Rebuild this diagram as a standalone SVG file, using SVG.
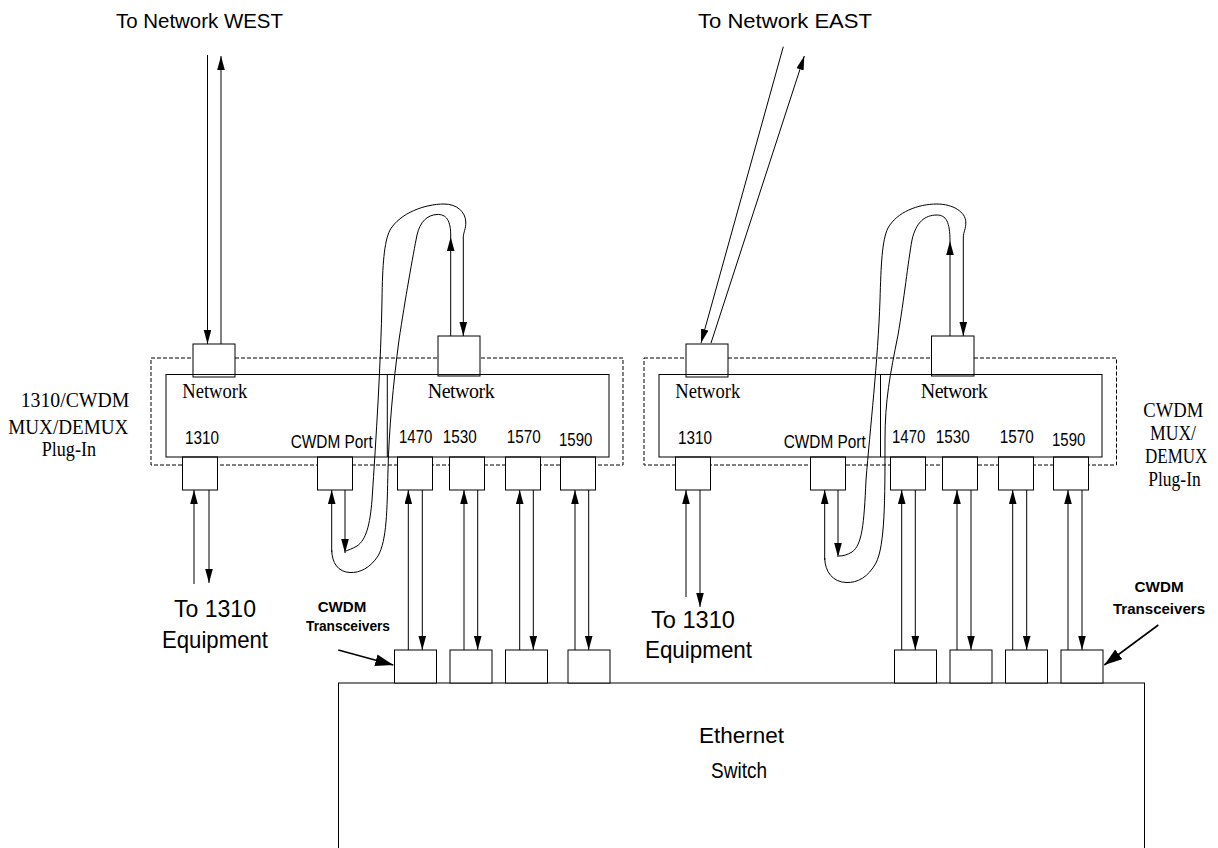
<svg xmlns="http://www.w3.org/2000/svg" width="1218" height="848" viewBox="0 0 1218 848">
<style>
.box{fill:#fff;stroke:#000;stroke-width:1}
.frame{fill:none;stroke:#000;stroke-width:1}
.dash{fill:none;stroke:#000;stroke-width:1;stroke-dasharray:4 2}
.ln{fill:none;stroke:#000;stroke-width:1}
.arr{marker-end:url(#ah)}
.big{fill:none;stroke:#000;stroke-width:1.6;marker-end:url(#ah2)}
.sans{font-family:"Liberation Sans",Arial,sans-serif;fill:#000}
.serif{font-family:"Liberation Serif","Times New Roman",serif;fill:#000}
.lbl{font-size:20px}
.num{font-size:17.5px}
.bold{font-weight:bold;font-size:15.5px}
.title{font-size:21px}
.eq{font-size:24px}
</style>
<defs>
<marker id="ah" markerUnits="userSpaceOnUse" markerWidth="14" markerHeight="8" refX="14" refY="3.8" orient="auto">
<path d="M0,0 L14,3.8 L0,7.6 z" fill="#000"/>
</marker>
<marker id="ah2" markerUnits="userSpaceOnUse" markerWidth="18" markerHeight="13" refX="18" refY="6" orient="auto">
<path d="M0,0 L18,6 L0,12 z" fill="#000"/>
</marker>
</defs>
<rect width="1218" height="848" fill="#fff"/>

<g id="title-west"><text class="sans title" x="116" y="28" textLength="167" lengthAdjust="spacingAndGlyphs">To Network WEST</text></g>
<g id="title-east"><text class="sans title" x="698" y="27.5" textLength="174" lengthAdjust="spacingAndGlyphs">To Network EAST</text></g>

<g id="label-left">
<text class="serif lbl" x="20.7" y="406.5" textLength="108.6" lengthAdjust="spacingAndGlyphs">1310/CWDM</text>
<text class="serif lbl" x="8.3" y="434" textLength="120" lengthAdjust="spacingAndGlyphs">MUX/DEMUX</text>
<text class="serif lbl" x="41.7" y="456" textLength="54.3" lengthAdjust="spacingAndGlyphs">Plug-In</text>
</g>
<g id="label-right">
<text class="serif lbl" x="1143.3" y="416.7" textLength="60" lengthAdjust="spacingAndGlyphs">CWDM</text>
<text class="serif lbl" x="1150" y="440" textLength="46" lengthAdjust="spacingAndGlyphs">MUX/</text>
<text class="serif lbl" x="1145" y="463.3" textLength="62.3" lengthAdjust="spacingAndGlyphs">DEMUX</text>
<text class="serif lbl" x="1148.3" y="486" textLength="52.4" lengthAdjust="spacingAndGlyphs">Plug-In</text>
</g>

<g id="mux-left">
<rect class="dash" x="151" y="358" width="472" height="107"/>
<g id="mux-left-net1"><rect class="box" x="193" y="344" width="42" height="33"/></g>
<g id="mux-left-net2"><rect class="box" x="438" y="336" width="42" height="40"/></g>
<g id="mux-left-p1310"><rect class="box" x="182.5" y="457" width="35" height="33"/></g>
<g id="mux-left-pcwdm"><rect class="box" x="317.5" y="457" width="35" height="33"/></g>
<g id="mux-left-p1470"><rect class="box" x="397.5" y="457" width="35" height="33"/></g>
<g id="mux-left-p1530"><rect class="box" x="449.5" y="457" width="35" height="33"/></g>
<g id="mux-left-p1570"><rect class="box" x="505.5" y="457" width="35" height="33"/></g>
<g id="mux-left-p1590"><rect class="box" x="560.5" y="457" width="35" height="33"/></g>
<rect class="frame" x="166" y="374.5" width="443" height="82.5"/>
<line class="ln" x1="387.3" y1="374.5" x2="387.3" y2="457" stroke-width="1.6"/>
<text class="serif lbl" x="182.3" y="398" textLength="65" lengthAdjust="spacingAndGlyphs">Network</text>
<text class="serif lbl" x="427.7" y="397.7" textLength="67">Network</text>
<text class="sans num" x="185" y="444" textLength="34" lengthAdjust="spacingAndGlyphs">1310</text>
<text class="sans" font-size="18" x="290.7" y="448" textLength="82" lengthAdjust="spacingAndGlyphs">CWDM Port</text>
<text class="sans num" x="399" y="443.3" textLength="33.3" lengthAdjust="spacingAndGlyphs">1470</text>
<text class="sans num" x="442.7" y="443.3" textLength="34" lengthAdjust="spacingAndGlyphs">1530</text>
<text class="sans num" x="506.7" y="443.3" textLength="34" lengthAdjust="spacingAndGlyphs">1570</text>
<text class="sans num" x="559" y="446" textLength="33.3" lengthAdjust="spacingAndGlyphs">1590</text>
</g>

<g id="mux-right">
<rect class="dash" x="644" y="358" width="472.5" height="107"/>
<g id="mux-right-net1"><rect class="box" x="686" y="344" width="42" height="33"/></g>
<g id="mux-right-net2"><rect class="box" x="931.5" y="336" width="42.5" height="40"/></g>
<g id="mux-right-p1310"><rect class="box" x="675.5" y="457" width="35" height="33"/></g>
<g id="mux-right-pcwdm"><rect class="box" x="810.5" y="457" width="35" height="33"/></g>
<g id="mux-right-p1470"><rect class="box" x="890.5" y="457" width="35" height="33"/></g>
<g id="mux-right-p1530"><rect class="box" x="942.5" y="457" width="35" height="33"/></g>
<g id="mux-right-p1570"><rect class="box" x="998.5" y="457" width="35" height="33"/></g>
<g id="mux-right-p1590"><rect class="box" x="1053.5" y="457" width="35" height="33"/></g>
<rect class="frame" x="659" y="374.5" width="443" height="82.5"/>
<line class="ln" x1="880.5" y1="374.5" x2="880.5" y2="457" stroke-width="1.6"/>
<text class="serif lbl" x="675.3" y="398" textLength="65" lengthAdjust="spacingAndGlyphs">Network</text>
<text class="serif lbl" x="920.7" y="397.7" textLength="67">Network</text>
<text class="sans num" x="678" y="444" textLength="34" lengthAdjust="spacingAndGlyphs">1310</text>
<text class="sans" font-size="18" x="783.7" y="448" textLength="82" lengthAdjust="spacingAndGlyphs">CWDM Port</text>
<text class="sans num" x="892" y="443.3" textLength="33.3" lengthAdjust="spacingAndGlyphs">1470</text>
<text class="sans num" x="935.7" y="443.3" textLength="34" lengthAdjust="spacingAndGlyphs">1530</text>
<text class="sans num" x="999.7" y="443.3" textLength="34" lengthAdjust="spacingAndGlyphs">1570</text>
<text class="sans num" x="1052" y="446" textLength="33.3" lengthAdjust="spacingAndGlyphs">1590</text>
</g>

<g id="switch">
<rect class="box" x="338.5" y="683" width="806" height="200"/>
<text class="sans" font-size="22" x="699" y="743" textLength="85" lengthAdjust="spacingAndGlyphs">Ethernet</text>
<text class="sans" font-size="22" x="711" y="778" textLength="56" lengthAdjust="spacingAndGlyphs">Switch</text>
</g>

<g id="transceivers-left">
<rect class="box" x="394.5" y="650" width="42" height="33"/>
<rect class="box" x="450" y="650" width="42" height="33"/>
<rect class="box" x="505.5" y="650" width="42" height="33"/>
<rect class="box" x="568" y="650" width="42" height="33"/>
</g>
<g id="transceivers-right">
<rect class="box" x="894.5" y="650" width="42" height="33"/>
<rect class="box" x="950" y="650" width="42" height="33"/>
<rect class="box" x="1005.5" y="650" width="42" height="33"/>
<rect class="box" x="1061" y="650" width="42" height="33"/>
</g>

<g id="equip-left">
<text class="sans eq" x="174" y="617" textLength="82" lengthAdjust="spacingAndGlyphs">To 1310</text>
<text class="sans eq" x="162" y="648" textLength="106" lengthAdjust="spacingAndGlyphs">Equipment</text>
</g>
<g id="equip-right">
<text class="sans eq" x="651" y="628" textLength="84" lengthAdjust="spacingAndGlyphs">To 1310</text>
<text class="sans eq" x="645" y="658" textLength="107" lengthAdjust="spacingAndGlyphs">Equipment</text>
</g>

<g id="trx-label-left">
<text class="sans bold" x="317.7" y="612" textLength="48.7" lengthAdjust="spacingAndGlyphs">CWDM</text>
<text class="sans bold" x="306" y="631" textLength="84" lengthAdjust="spacingAndGlyphs">Transceivers</text>
</g>
<g id="trx-label-right">
<text class="sans bold" x="1134.6" y="592" textLength="49" lengthAdjust="spacingAndGlyphs">CWDM</text>
<text class="sans bold" x="1113" y="614" textLength="92" lengthAdjust="spacingAndGlyphs">Transceivers</text>
</g>

<g id="connectors">
<line class="ln arr" x1="207.5" y1="55" x2="207.5" y2="344"/>
<line class="ln arr" x1="221" y1="344" x2="221" y2="56"/>
<line class="ln arr" x1="783.3" y1="46.7" x2="701" y2="343"/>
<line class="ln arr" x1="711" y1="343" x2="804.3" y2="56"/>

<line class="ln arr" x1="450.7" y1="336" x2="450.7" y2="237"/>
<line class="ln arr" x1="463.3" y1="237" x2="463.3" y2="336"/>
<line class="ln arr" x1="331.7" y1="552" x2="331.7" y2="490"/>
<line class="ln arr" x1="345" y1="490" x2="345" y2="553"/>
<path class="ln" d="M450.7,237 C451,220 446,214 437,214.5 C427,215 420,222 417,235 C413,255 405,300 399,340 C393,385 389,430 388,470 C387,510 387,540 378,556 C370,568 360,573 350,572.5 C338,572 332,563 331.7,550"/>
<path class="ln" d="M463.3,237 C463.5,232 466,229 465.8,222 C465.5,212 457,204 444,204 C425,204 400,213 390,230 C384,242 382.5,265 382,300 C381,360 376,440 372,500 C370,525 366,540 357,546 C352,549 348,550 346,551"/>

<line class="ln arr" x1="950" y1="336" x2="950" y2="241"/>
<line class="ln arr" x1="963.3" y1="237" x2="963.3" y2="336"/>
<line class="ln arr" x1="824.7" y1="560" x2="824.7" y2="490"/>
<line class="ln arr" x1="838" y1="490" x2="838" y2="557"/>
<path class="ln" d="M950,241 C950,222 946,215 937,215 C925,215 916,222 912,240 C908,262 904,300 898,335 C890,375 885,400 885,440 C885,500 885,545 876,563 C868,577 858,583 846,582.5 C833,582 825,572 824.7,558"/>
<path class="ln" d="M963.3,237 C963.5,232 966,229 965.8,222 C965.5,212 953,204 937,204 C918,204 897,212 888,228 C882,240 881,265 880,300 C878,360 870,430 866,480 C864,525 862,545 852,552 C847,555 843,556 839,556"/>

<line class="ln arr" x1="194" y1="584" x2="194" y2="490"/>
<line class="ln arr" x1="209" y1="490" x2="209" y2="583"/>
<line class="ln arr" x1="686" y1="597" x2="686" y2="490"/>
<line class="ln arr" x1="700" y1="490" x2="700" y2="607"/>

<line class="ln arr" x1="408.3" y1="650" x2="408.3" y2="490"/>
<line class="ln arr" x1="422.3" y1="490" x2="422.3" y2="650"/>
<line class="ln arr" x1="464" y1="650" x2="464" y2="490"/>
<line class="ln arr" x1="477.7" y1="490" x2="477.7" y2="650"/>
<line class="ln arr" x1="519.7" y1="650" x2="519.7" y2="490"/>
<line class="ln arr" x1="533.3" y1="490" x2="533.3" y2="650"/>
<line class="ln arr" x1="575" y1="650" x2="575" y2="490"/>
<line class="ln arr" x1="588.7" y1="490" x2="588.7" y2="650"/>

<line class="ln arr" x1="901.7" y1="650" x2="901.7" y2="490"/>
<line class="ln arr" x1="915.3" y1="490" x2="915.3" y2="650"/>
<line class="ln arr" x1="957" y1="650" x2="957" y2="490"/>
<line class="ln arr" x1="971" y1="490" x2="971" y2="650"/>
<line class="ln arr" x1="1012.7" y1="650" x2="1012.7" y2="490"/>
<line class="ln arr" x1="1026.7" y1="490" x2="1026.7" y2="650"/>
<line class="ln arr" x1="1068" y1="650" x2="1068" y2="490"/>
<line class="ln arr" x1="1082" y1="490" x2="1082" y2="650"/>

<line class="big" x1="338.3" y1="650" x2="393.3" y2="665"/>
<line class="big" x1="1158.3" y1="625" x2="1104.3" y2="665"/>
</g>
</svg>
